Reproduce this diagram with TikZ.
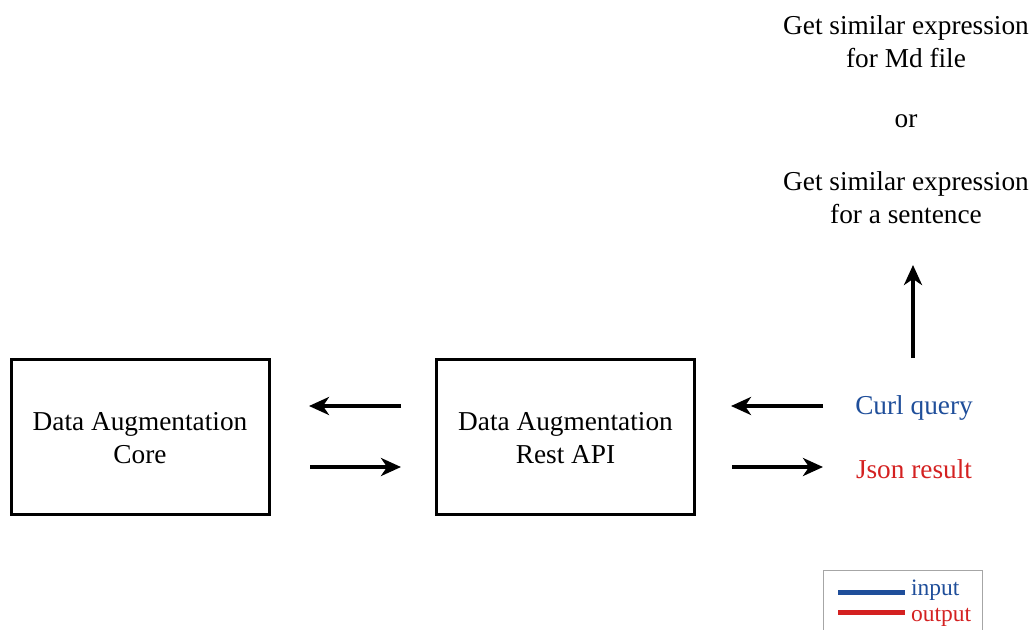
\documentclass[tikz,border=0pt]{standalone}
\usepackage{fontspec}
\setmainfont{Liberation Serif}
\usetikzlibrary{arrows.meta}
\definecolor{inblue}{HTML}{1F4E9A}
\definecolor{outred}{HTML}{D42121}
\begin{document}
\begin{tikzpicture}[x=1pt,y=-1pt,
  box/.style={draw,line width=3pt,minimum width=258pt,minimum height=155pt,align=center,font=\fontsize{27.3}{33}\selectfont},
  arr/.style={line width=3.5pt,-{Stealth[length=20pt,width=18pt,inset=6pt]}},
  lbl/.style={align=center,font=\fontsize{27.3}{33}\selectfont},
  leg/.style={font=\fontsize{23.5}{24}\selectfont,anchor=west,inner sep=0pt}]
\useasboundingbox (0,0) rectangle (1035,629);
\node[box] (core) at (140,436.5) {};
\node[lbl] (coret) at (140,438.5) {Data Augmentation\\Core};
\node[box] (api) at (565.5,436.5) {};
\node[lbl] (apit) at (565.5,438.5) {Data Augmentation\\Rest API};
\coordinate (a1s) at (401,406); \coordinate (a1e) at (309,406);
\coordinate (a2s) at (310,467); \coordinate (a2e) at (401,467);
\coordinate (a3s) at (823,406); \coordinate (a3e) at (731,406);
\coordinate (a4s) at (732,467); \coordinate (a4e) at (823,467);
\coordinate (a5s) at (913,358); \coordinate (a5e) at (913,265);
\draw[arr] (a1s) -- (a1e);
\draw[arr] (a2s) -- (a2e);
\draw[arr] (a3s) -- (a3e);
\draw[arr] (a4s) -- (a4e);
\draw[arr] (a5s) -- (a5e);
\node[lbl,text=inblue] (curl) at (914,408) {Curl query};
\node[lbl,text=outred] (json) at (914,469) {Json result};
\node[lbl] (t1) at (906,41.5) {Get similar expression\\for Md file};
\node[lbl] (or) at (906,121) {or};
\node[lbl] (t2) at (906,198) {Get similar expression\\for a sentence};
\node[draw=gray!70,line width=1pt,minimum width=159pt,minimum height=80pt,anchor=north west,inner sep=0pt] (legbox) at (823,570) {};
\coordinate (b1) at (838,592); \coordinate (b2) at (905,592);
\coordinate (r1) at (838,612); \coordinate (r2) at (905,612);
\draw[inblue,line width=5pt] (b1) -- (b2);
\draw[outred,line width=5pt] (r1) -- (r2);
\node[leg,text=inblue] (lin) at (911,590) {input};
\node[leg,text=outred] (lout) at (911,617) {output};
\end{tikzpicture}
\end{document}
